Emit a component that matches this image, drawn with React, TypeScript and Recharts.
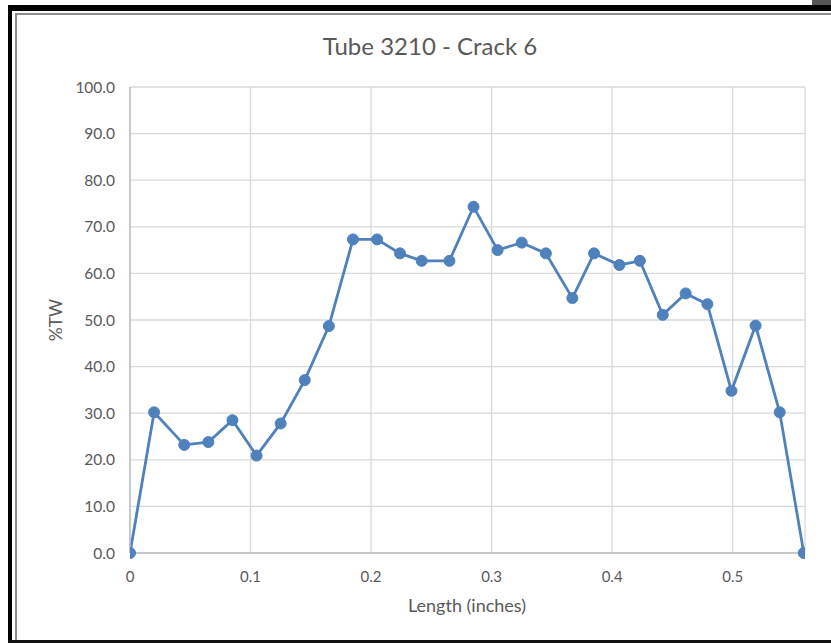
import React from 'react';
import { LineChart, Line, XAxis, YAxis, CartesianGrid } from 'recharts';

// Length along the crack (inches) and depth (%TW)
const lengths = [
  0, 0.02, 0.045, 0.065, 0.085, 0.105, 0.125, 0.145, 0.165, 0.185,
  0.205, 0.224, 0.242, 0.265, 0.285, 0.305, 0.325, 0.345, 0.367, 0.385,
  0.406, 0.423, 0.442, 0.461, 0.479, 0.499, 0.519, 0.539, 0.559,
];
const depths = [
  0, 30.2, 23.2, 23.8, 28.5, 20.9, 27.8, 37.1, 48.7, 67.3,
  67.3, 64.3, 62.7, 62.7, 74.3, 65.0, 66.6, 64.3, 54.7, 64.3,
  61.8, 62.7, 51.1, 55.7, 53.4, 34.8, 48.8, 30.2, 0,
];
const xTicks = [0, 0.1, 0.2, 0.3, 0.4, 0.5];
const yTicks = [0, 10, 20, 30, 40, 50, 60, 70, 80, 90, 100];

const title = 'Tube 3210 - Crack 6';
const xLabel = 'Length (inches)';
const yLabel = '%TW';

const data = lengths.map((x, i) => ({ x, depth: depths[i] }));

const font = 'Lato, "Open Sans", sans-serif';
const textColor = '#595959';

export default function App() {
  return (
    <div
      style={{
        position: 'fixed',
        left: 0,
        top: 0,
        width: 831,
        height: 643,
        background: '#fff',
        overflow: 'hidden',
        fontFamily: font,
      }}
    >
      {/* frame around the screenshot */}
      <div style={{ position: 'absolute', left: 812, top: 0, width: 19, height: 5, background: '#555' }} />
      <div style={{ position: 'absolute', left: 8, top: 5, width: 823, height: 6, background: '#000' }} />
      <div style={{ position: 'absolute', left: 8, top: 5, width: 4, height: 638, background: '#000' }} />
      <div style={{ position: 'absolute', left: 8, top: 640, width: 823, height: 3, background: '#111' }} />
      <div style={{ position: 'absolute', left: 15, top: 13, width: 816, height: 2, background: '#8c8c8c' }} />
      <div style={{ position: 'absolute', left: 15, top: 13, width: 2, height: 627, background: '#8c8c8c' }} />

      <div
        style={{
          position: 'absolute',
          left: 230,
          top: 31,
          width: 400,
          textAlign: 'center',
          fontSize: 24,
          color: textColor,
          lineHeight: '30px',
        }}
      >
        {title}
      </div>

      <LineChart
        width={831}
        height={643}
        data={data}
        margin={{ top: 87, right: 26, bottom: 40, left: 60 }}
        style={{ position: 'absolute', left: 0, top: 0 }}
      >
        <CartesianGrid stroke="#d9d9d9" strokeWidth={1.3} />
        <XAxis
          dataKey="x"
          type="number"
          domain={[0, 0.56]}
          ticks={xTicks}
          allowDataOverflow
          height={50}
          tickLine={false}
          tickMargin={12}
          axisLine={{ stroke: '#bfbfbf', strokeWidth: 1.5 }}
          tick={{ fill: textColor, fontSize: 15, fontFamily: font }}
          tickFormatter={(v: number) => (v === 0 ? '0' : String(v))}
        />
        <YAxis
          type="number"
          domain={[0, 100]}
          ticks={yTicks}
          width={70}
          tickLine={false}
          tickMargin={9}
          axisLine={{ stroke: '#bfbfbf', strokeWidth: 1.5 }}
          tick={{ fill: textColor, fontSize: 15.5, fontFamily: font }}
          tickFormatter={(v: number) => v.toFixed(1)}
        />
        <Line
          dataKey="depth"
          type="linear"
          stroke="#4f81bd"
          strokeWidth={2.8}
          dot={{ r: 5.5, fill: '#4f81bd', stroke: '#4f81bd', strokeWidth: 1 }}
          isAnimationActive={false}
        />
      </LineChart>

      <div
        style={{
          position: 'absolute',
          left: 367,
          top: 594,
          width: 200,
          textAlign: 'center',
          fontSize: 18,
          color: textColor,
          lineHeight: '22px',
        }}
      >
        {xLabel}
      </div>
      <div
        style={{
          position: 'absolute',
          left: 56 - 50,
          top: 320 - 11,
          width: 100,
          textAlign: 'center',
          fontSize: 17.5,
          color: textColor,
          lineHeight: '22px',
          transform: 'rotate(-90deg)',
        }}
      >
        {yLabel}
      </div>
    </div>
  );
}
